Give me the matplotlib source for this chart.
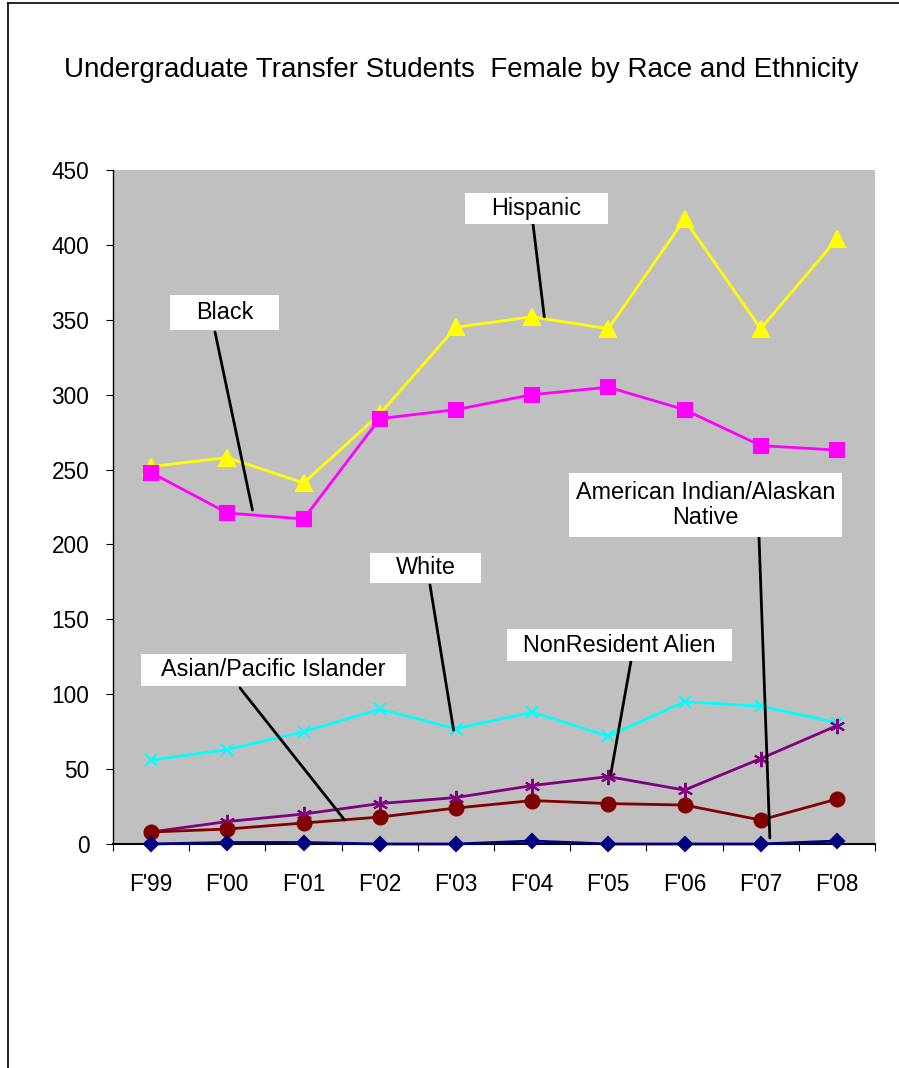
import matplotlib
matplotlib.use("Agg")
import matplotlib.pyplot as plt
from matplotlib.lines import Line2D
from matplotlib.patches import Rectangle

plt.rcParams['font.family'] = ['Liberation Sans', 'DejaVu Sans']

categories = ["F'99", "F'00", "F'01", "F'02", "F'03", "F'04", "F'05", "F'06", "F'07", "F'08"]
hispanic = [252, 258, 241, 287, 345, 352, 344, 417, 344, 404]
black = [248, 221, 217, 284, 290, 300, 305, 290, 266, 263]
white = [56, 63, 75, 90, 77, 88, 72, 95, 92, 81]
nonresident = [8, 15, 20, 27, 31, 39, 45, 36, 57, 79]
asian = [8, 10, 14, 18, 24, 29, 27, 26, 16, 30]
amindian = [0, 1, 1, 0, 0, 2, 0, 0, 0, 2]
yticks = [0, 50, 100, 150, 200, 250, 300, 350, 400, 450]
title = "Undergraduate Transfer Students  Female by Race and Ethnicity"

W, H = 899, 1068
fig = plt.figure(figsize=(W / 100, H / 100), dpi=100)
fig.patch.set_facecolor('white')

# plot area in pixels: x 113..875, y(top) 170..844
ax = fig.add_axes([113 / W, (H - 844) / H, (875 - 113) / W, (844 - 170) / H])
ax.set_facecolor('#C0C0C0')
x = list(range(len(categories)))

series = [
    (hispanic, '#FFFF00', '^', 11),
    (black, '#FF00FF', 's', 10),
    (white, '#00FFFF', 'x', 9),
    (nonresident, '#800080', (6, 2, 0), 11),
    (asian, '#800000', 'o', 10),
    (amindian, '#000080', 'D', 7),
]
for vals, col, mk, ms in series:
    ax.plot(x, vals, color=col, lw=2, marker=mk, markersize=ms,
            markerfacecolor=col, markeredgecolor=col, markeredgewidth=1.5,
            clip_on=False, zorder=3)

ax.set_xlim(-0.5, len(categories) - 0.5)
ax.set_ylim(0, 450)
ax.set_yticks(yticks)
ax.set_yticklabels([str(v) for v in yticks], fontsize=16.3)
ax.set_xticks(x)
ax.set_xticklabels(categories, fontsize=16.3)
ax.tick_params(axis='x', which='major', length=0, pad=21)
ax.set_xticks([i - 0.5 for i in range(len(categories) + 1)], minor=True)
ax.tick_params(axis='x', which='minor', length=5, width=0.8, direction='out')
ax.tick_params(axis='y', length=5, width=0.8, direction='out', pad=12)
for s in ['top', 'right']:
    ax.spines[s].set_visible(False)
ax.spines['left'].set_linewidth(1)
ax.spines['bottom'].set_linewidth(1.5)

fig.text(461 / W, (H - 70) / H, title, ha='center', va='center', fontsize=20)

# callout labels: (text, box x0, x1, y0, y1 in image px, line start px, line end in data coords)
labels = [
    ("Hispanic", (465, 608, 193, 224), (533, 224), (5.16, 352)),
    ("Black", (170, 279, 295, 330), (215, 332), (1.33, 223)),
    ("American Indian/Alaskan\nNative", (569, 842, 473, 537), (759, 537), (8.12, 4)),
    ("White", (370, 481, 553, 583), (430, 585), (3.97, 76)),
    ("Asian/Pacific Islander", (141, 406, 654, 686), (240, 688), (2.54, 16)),
    ("NonResident Alien", (507, 732, 629, 661), (631, 661), (6.03, 46)),
]
for txt, (x0, x1, y0, y1), (sx, sy), (ex, ey) in labels:
    fig.patches.append(Rectangle((x0 / W, (H - y1) / H), (x1 - x0) / W, (y1 - y0) / H,
                                 transform=fig.transFigure, facecolor='white',
                                 edgecolor='none', zorder=5))
    fig.text((x0 + x1) / 2 / W, (H - (y0 + y1) / 2) / H, txt, ha='center', va='center',
             fontsize=16.8, zorder=6, linespacing=1.15)
    ax.annotate('', xy=(ex, ey), xycoords='data', xytext=(sx, H - sy),
                textcoords='figure pixels',
                arrowprops=dict(arrowstyle='-', lw=2, color='black', shrinkA=0, shrinkB=0),
                annotation_clip=False, zorder=7)

# outer frame (left and top)
fig.add_artist(Line2D([7.5 / W, 7.5 / W], [0, (H - 3) / H], color='black', lw=1.2,
                      transform=fig.transFigure))
fig.add_artist(Line2D([7.5 / W, 1], [(H - 3) / H, (H - 3) / H], color='black', lw=1.2,
                      transform=fig.transFigure))

fig.savefig('out.png', dpi=100, facecolor='white')
